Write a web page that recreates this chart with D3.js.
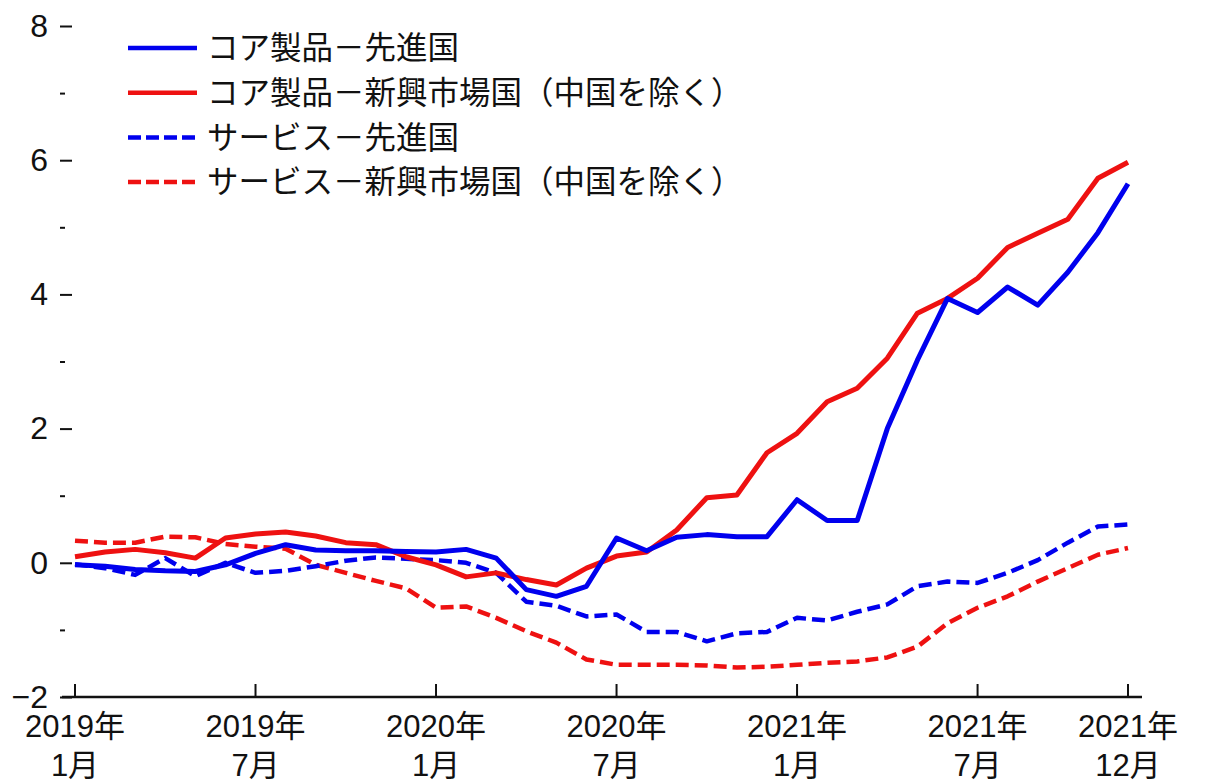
<!DOCTYPE html>
<html>
<head>
<meta charset="utf-8">
<script src="https://cdn.jsdelivr.net/npm/d3@7"></script>
<style>
  body { margin: 0; background: #fff; }
  svg { display: block; }
  .axis text { font-family: "Liberation Sans", Arial, "Noto Sans CJK JP", sans-serif; fill: #111; }
  .legend text { font-family: "Noto Sans CJK JP", sans-serif; fill: #111; }
</style>
</head>
<body>
<div id="chart"></div>
<script>
// months 2019/1 .. 2021/12
var months = d3.range(36).map(function (i) { return i; });

// コア製品－先進国
var coreAdvanced = [-0.03, -0.05, -0.1, -0.12, -0.13, -0.03, 0.14, 0.27, 0.19, 0.18,
  0.18, 0.17, 0.16, 0.2, 0.07, -0.4, -0.5, -0.35, 0.37, 0.18,
  0.38, 0.42, 0.39, 0.39, 0.94, 0.63, 0.63, 2.0, 3.02, 3.94,
  3.73, 4.11, 3.84, 4.33, 4.92, 5.65];
// コア製品－新興市場国（中国を除く）
var coreEmerging = [0.09, 0.16, 0.2, 0.15, 0.07, 0.37, 0.43, 0.46, 0.4, 0.3,
  0.27, 0.09, -0.03, -0.21, -0.15, -0.25, -0.33, -0.08, 0.1, 0.16,
  0.49, 0.97, 1.01, 1.64, 1.93, 2.4, 2.6, 3.05, 3.72, 3.94,
  4.24, 4.7, 4.91, 5.12, 5.73, 5.97];
// サービス－先進国
var servAdvanced = [-0.02, -0.08, -0.18, 0.07, -0.2, 0.0, -0.15, -0.12, -0.05, 0.03,
  0.08, 0.06, 0.04, 0.0, -0.15, -0.58, -0.64, -0.8, -0.77, -1.03,
  -1.03, -1.17, -1.05, -1.03, -0.82, -0.86, -0.73, -0.62, -0.35, -0.28,
  -0.3, -0.15, 0.04, 0.3, 0.54, 0.57];
// サービス－新興市場国（中国を除く）
var servEmerging = [0.33, 0.3, 0.3, 0.39, 0.38, 0.28, 0.24, 0.21, -0.03, -0.15,
  -0.27, -0.38, -0.67, -0.65, -0.82, -1.02, -1.19, -1.44, -1.52, -1.52,
  -1.52, -1.53, -1.56, -1.55, -1.52, -1.49, -1.47, -1.41, -1.25, -0.9,
  -0.67, -0.5, -0.28, -0.08, 0.12, 0.22];

var seriesNames = [
  "コア製品－先進国",
  "コア製品－新興市場国（中国を除く）",
  "サービス－先進国",
  "サービス－新興市場国（中国を除く）"
];

var xTickMonths = [0, 6, 12, 18, 24, 30, 35];
var xTickLabels = [
  ["2019年", "1月"], ["2019年", "7月"], ["2020年", "1月"], ["2020年", "7月"],
  ["2021年", "1月"], ["2021年", "7月"], ["2021年", "12月"]
];
var yTicks = d3.range(-2, 9, 1);

var width = 1205, height = 782;
var blue = "#0000ee", red = "#ee1111";

var svg = d3.select("#chart").append("svg")
  .attr("width", width)
  .attr("height", height);

svg.append("rect").attr("width", width).attr("height", height).attr("fill", "#fff");

var x = d3.scalePoint().domain(months).range([75, 1128]);
var y = d3.scaleLinear().domain([-2, 8]).range([697, 26]);

//y axis: only tick dashes and labels, no vertical line
var yAxis = svg.append("g")
  .attr("class", "axis")
  .attr("transform", "translate(72,0)")
  .call(d3.axisLeft(y)
    .tickValues(yTicks)
    .tickSize(12)
    .tickPadding(12)
    .tickFormat(function (d) { return d % 2 === 0 ? d3.format("d")(d) : ""; }));
yAxis.select(".domain").remove();
yAxis.selectAll(".tick line").attr("stroke", "#111").attr("stroke-width", 2);
yAxis.selectAll(".tick")
  .filter(function (d) { return d % 2 !== 0; })
  .select("line")
  .attr("x1", -7);
yAxis.selectAll(".tick text").attr("font-size", 32);

//x axis line
svg.append("line")
  .attr("x1", 62).attr("x2", 1142)
  .attr("y1", y(-2)).attr("y2", y(-2))
  .attr("stroke", "#111").attr("stroke-width", 2.5);

var xAxis = svg.append("g").attr("class", "axis");
var xt = xAxis.selectAll("g.xtick")
  .data(xTickMonths)
  .enter()
  .append("g")
  .attr("class", "xtick")
  .attr("transform", function (d) { return "translate(" + x(d) + "," + y(-2) + ")"; });
xt.append("line")
  .attr("y1", 0).attr("y2", -13)
  .attr("stroke", "#111").attr("stroke-width", 2);
xt.append("text")
  .attr("text-anchor", "middle")
  .attr("font-size", 31)
  .attr("y", 40)
  .text(function (d, i) { return xTickLabels[i][0]; });
xt.append("text")
  .attr("text-anchor", "middle")
  .attr("font-size", 31)
  .attr("y", 79)
  .text(function (d, i) { return xTickLabels[i][1]; });

//lines
var seriesList = [
  { values: servEmerging, color: red, dash: "13,6", width: 4.5 },
  { values: servAdvanced, color: blue, dash: "13,6", width: 4.5 },
  { values: coreEmerging, color: red, dash: null, width: 5 },
  { values: coreAdvanced, color: blue, dash: null, width: 5 }
];

var line = d3.line()
  .x(function (d, i) { return x(months[i]); })
  .y(function (d) { return y(d); });

svg.selectAll("path.series")
  .data(seriesList)
  .enter()
  .append("path")
  .attr("class", "series")
  .attr("fill", "none")
  .attr("stroke", function (d) { return d.color; })
  .attr("stroke-width", function (d) { return d.width; })
  .attr("stroke-dasharray", function (d) { return d.dash; })
  .attr("stroke-linejoin", "round")
  .attr("d", function (d) { return line(d.values); });

//legend
var legendItems = [
  { name: seriesNames[0], color: blue, dash: null },
  { name: seriesNames[1], color: red, dash: null },
  { name: seriesNames[2], color: blue, dash: "13,5" },
  { name: seriesNames[3], color: red, dash: "13,5" }
];
var legend = svg.append("g").attr("class", "legend");
var li = legend.selectAll("g")
  .data(legendItems)
  .enter()
  .append("g")
  .attr("transform", function (d, i) { return "translate(128," + (48 + i * 44.7) + ")"; });
li.append("line")
  .attr("x1", 0).attr("x2", 69)
  .attr("stroke", function (d) { return d.color; })
  .attr("stroke-width", 4.5)
  .attr("stroke-dasharray", function (d) { return d.dash; });
li.append("text")
  .attr("x", 79)
  .attr("y", 0)
  .attr("dy", "0.36em")
  .attr("font-size", 31.5)
  .text(function (d) { return d.name; });
</script>
</body>
</html>
